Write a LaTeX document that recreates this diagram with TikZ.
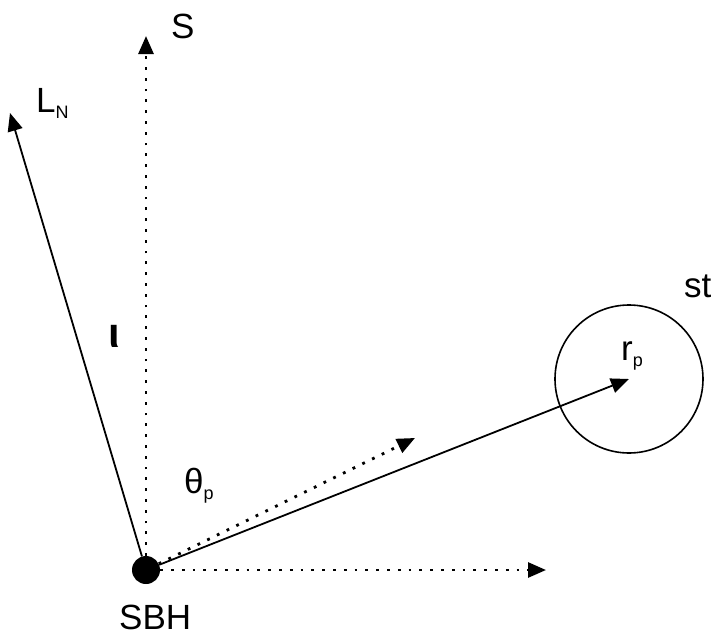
\documentclass[tikz,border=0pt]{standalone}
\usepackage{fontspec}
\setmainfont{Liberation Sans}
\usetikzlibrary{arrows.meta}
\tikzset{
  lbl/.style  ={font=\fontsize{35}{38}\selectfont, inner sep=0pt, anchor=base west},
  hole/.style ={circle, fill=black, minimum size=28pt, inner sep=0pt},
  starc/.style={circle, draw, line width=1.6pt, minimum size=148pt, inner sep=0pt},
  flow/.style ={-{Triangle[length=18pt,width=15pt]}, line width=1.8pt},
  dflow/.style={flow, line width=2.8pt, dash pattern=on 2.8pt off 8pt},
}
\newcommand{\lowsub}[1]{\raisebox{-6pt}{\fontsize{18}{18}\selectfont #1}}

\begin{document}
\begin{tikzpicture}[x=1pt, y=-1pt]
  \useasboundingbox (0,0) rectangle (713,635);
  \node[hole] (sbh) at (146,570) {};
  \node[starc] (star) at (629,379) {};
  \coordinate (s) at (146,36);
  \coordinate (ln) at (10,113);
  \coordinate (tp) at (415,438);
  \coordinate (xax) at (546,570);
  \draw[dflow] (sbh) -- (s);
  \draw[flow] (sbh) -- (ln);
  \draw[dflow] (sbh) -- (tp);
  \draw[dflow] (sbh) -- (xax);
  \draw[flow] (sbh) -- (star.center);
  % labels
  \node[lbl] (slbl) at (171,38) {S};
  \node[lbl] (lnlbl) at (36,112) {L\lowsub{N}};
  \node[lbl, font=\fontsize{42}{44}\selectfont\bfseries] (ilbl) at (108,347) {ι};
  \node[lbl] (thlbl) at (184,493) {θ\lowsub{p}};
  \node[lbl] (rlbl) at (621,360) {r\lowsub{p}};
  \node[lbl] (stlbl) at (684,297) {st};
  \node[lbl] (sbhlbl) at (119,629) {SBH};
\end{tikzpicture}
\end{document}
